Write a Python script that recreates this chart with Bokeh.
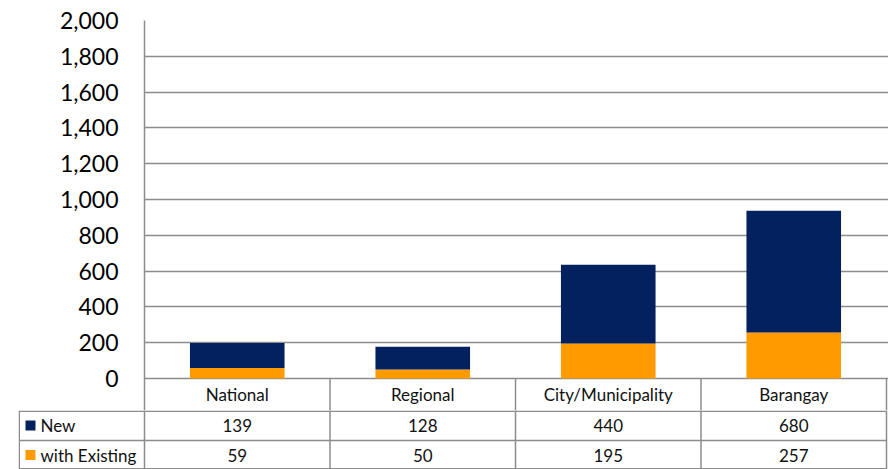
import numpy as np
from bokeh.plotting import figure
from bokeh.models import Range1d, FixedTicker, NumeralTickFormatter, ColumnDataSource
from bokeh.core.properties import value
from bokeh.embed import file_html
from bokeh.resources import INLINE

# ---- data ----
categories = ["National", "Regional", "City/Municipality", "Barangay"]
series_names = ["New", "with Existing"]
new_vals = [139, 128, 440, 680]
existing_vals = [59, 50, 195, 257]
y_ticks = list(range(0, 2001, 200))

NAVY = "#03215F"
ORANGE = "#FF9B00"
GRID = "#8C8C8C"
FONT = "Lato"
TXT = "#111111"

# ---- layout constants (px) ----
W = 888
TOP = 20
FRAME_LEFT = 144
CHART_PX = 358        # height of 0..2000
ROW1_PX = 32          # category row
TABLE_H = 59          # two data rows
ROW_SPLIT = 30
TABLE_LEFT = 18

upp = 2000 / CHART_PX                  # data units per px
ymin = -ROW1_PX * upp
unit_px = 742 / 4.0                    # px per category
xend = 4 + (W - FRAME_LEFT - 742) / unit_px

xs = np.arange(len(categories)) + 0.5

# ---- main chart (with category row) ----
p = figure(width=W, height=TOP + CHART_PX + ROW1_PX, output_backend="svg",
           toolbar_location=None, x_range=Range1d(0, xend), y_range=Range1d(ymin, 2000),
           x_axis_location=None, min_border_left=FRAME_LEFT, min_border_right=0,
           min_border_top=TOP, min_border_bottom=0)
p.outline_line_color = None
p.xgrid.visible = False
p.ygrid.ticker = FixedTicker(ticks=y_ticks)
p.ygrid.grid_line_color = GRID
p.ygrid.grid_line_width = 1.5

ax = p.yaxis[0]
ax.ticker = FixedTicker(ticks=y_ticks)
ax.formatter = NumeralTickFormatter(format="0,0")
ax.major_tick_line_color = None
ax.minor_tick_line_color = None
ax.axis_line_color = GRID
ax.axis_line_width = 1.5
ax.major_label_standoff = 20
ax.major_label_text_font = FONT
ax.major_label_text_font_size = "23px"
ax.major_label_text_color = "#000000"

src = ColumnDataSource(dict(x=xs, existing=existing_vals, new=new_vals))
p.vbar_stack(["existing", "new"], x="x", width=0.51, source=src,
             color=[ORANGE, NAVY], line_color=None)

# category row dividers
p.segment(x0=[1, 2, 3, 4], y0=[ymin] * 4, x1=[1, 2, 3, 4], y1=[0] * 4,
          line_color=GRID, line_width=1.5)
p.text(x=xs, y=[ymin / 2] * 4, text=categories, text_align="center",
       text_baseline="middle", text_font=value(FONT), text_font_size="17px",
       text_color=TXT)

# ---- data table rows ----
xstart = -(FRAME_LEFT - TABLE_LEFT) / unit_px
t = figure(width=W, height=TABLE_H, output_backend="svg", toolbar_location=None,
           x_range=Range1d(xstart, xend), y_range=Range1d(TABLE_H, 0),
           x_axis_location=None, y_axis_location=None,
           min_border_left=TABLE_LEFT, min_border_right=0,
           min_border_top=0, min_border_bottom=0)
t.outline_line_color = None
t.grid.visible = False

lx = xstart + 0.75 / unit_px
hy = [0.75, ROW_SPLIT, TABLE_H - 0.75]
t.segment(x0=[lx] * 3, y0=hy, x1=[4] * 3, y1=hy, line_color=GRID, line_width=1.5)
vx = [lx, 0, 1, 2, 3, 4]
t.segment(x0=vx, y0=[0] * 6, x1=vx, y1=[TABLE_H] * 6, line_color=GRID, line_width=1.5)

row_y = [ROW_SPLIT / 2, (ROW_SPLIT + TABLE_H) / 2]
key_x = xstart + 12 / unit_px
lab_x = xstart + 22 / unit_px
t.scatter(x=[key_x] * 2, y=row_y, marker="square", size=10,
          color=[NAVY, ORANGE], line_color=None)
t.text(x=[lab_x] * 2, y=row_y, text=series_names, text_align="left",
       text_baseline="middle", text_font=value(FONT), text_font_size="17px",
       text_color=TXT)
for vals, yy in zip([new_vals, existing_vals], row_y):
    t.text(x=xs, y=[yy] * len(xs), text=[str(v) for v in vals], text_align="center",
           text_baseline="middle", text_font=value(FONT), text_font_size="17px",
           text_color=TXT)

open("out.html", "w").write(file_html([p, t], INLINE))
